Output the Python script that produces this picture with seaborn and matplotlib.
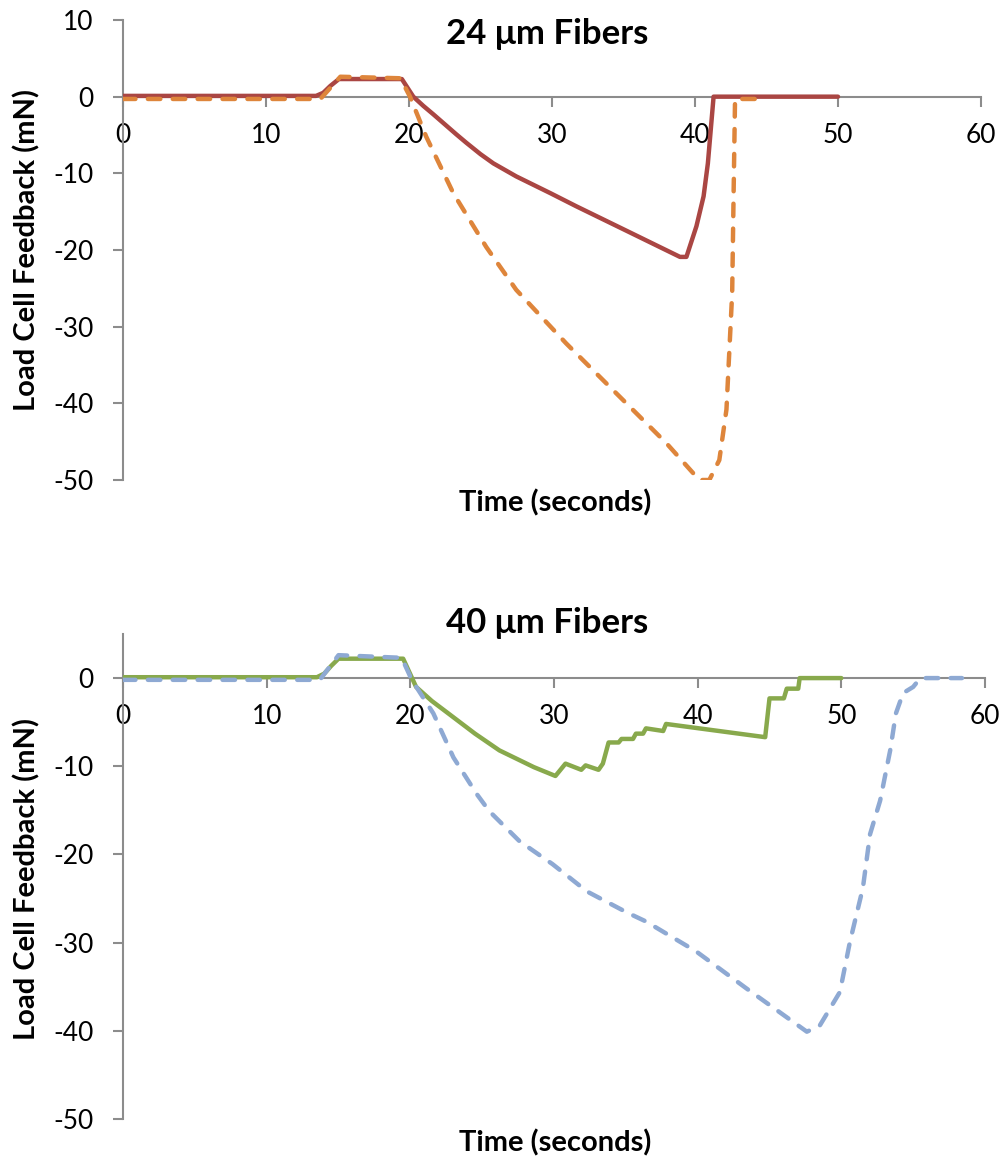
import numpy as np
import pandas as pd
import matplotlib
matplotlib.use("Agg")
import matplotlib.pyplot as plt
import seaborn as sns

# ---------------- data ----------------
# 24 um fibers, solid (red)
t24_solid = [0, 13.5, 14.0, 14.5, 15.1, 19.5, 20.3, 21.0, 21.7, 22.5, 23.3, 24.0, 25.0,
             25.9, 27.5, 29.9, 31.7, 35.0, 38.95, 39.4, 40.1, 40.6, 40.9, 41.3, 50.0]
f24_solid = [0.1, 0.1, 0.5, 1.4, 2.3, 2.3, 0.0, -1.2, -2.3, -3.6, -4.9, -6.0, -7.5,
             -8.7, -10.4, -12.6, -14.3, -17.3, -20.9, -20.9, -16.9, -13.0, -8.7, 0.0, 0.0]

# 24 um fibers, dashed (orange)
t24_dash = [0, 13.8, 15.2, 19.4, 20.07, 21.2, 23.1, 25.4, 27.5, 31.0, 34.5, 38.0,
            40.3, 41.0, 41.7, 42.2, 42.6, 42.7, 42.8, 44.7]
f24_dash = [-0.3, -0.3, 2.6, 2.4, 0.0, -5.2, -12.6, -19.6, -25.2, -32.2, -38.7, -45.2,
            -50.0, -50.0, -47.4, -40.8, -25.6, -12.6, -0.3, -0.3]

# 40 um fibers, solid (green)
t40_solid = [0, 13.5, 14.0, 14.5, 15.0, 19.5, 20.4, 21.5, 22.8, 24.5, 26.2, 28.6, 30.1,
             30.4, 30.8, 31.9, 32.2, 33.1, 33.4, 33.8, 34.5, 34.7, 35.5, 35.7, 36.2,
             36.4, 37.6, 37.8, 44.7, 45.0, 46.0, 46.2, 47.0, 47.1, 50.0]
f40_solid = [0.1, 0.1, 0.5, 1.4, 2.2, 2.2, -1.0, -2.6, -4.2, -6.3, -8.2, -10.1, -11.1,
             -10.5, -9.7, -10.4, -9.9, -10.4, -9.7, -7.3, -7.3, -6.9, -6.9, -6.3, -6.3,
             -5.7, -6.0, -5.2, -6.7, -2.3, -2.3, -1.2, -1.2, 0.0, 0.0]

# 40 um fibers, dashed (blue)
t40_dash = [0, 13.7, 15.0, 19.4, 20.1, 21.6, 23.0, 24.6, 25.5, 27.6, 29.9, 32.3, 35.1,
            36.4, 39.9, 43.4, 47.6, 48.5, 49.9, 50.6, 51.5, 52.0, 52.7, 53.4, 53.8,
            54.3, 55.0, 55.5, 58.4]
f40_dash = [-0.2, -0.2, 2.6, 2.3, -0.2, -4.0, -9.0, -13.1, -15.1, -18.5, -21.1, -24.2,
            -26.6, -27.6, -31.0, -35.2, -40.1, -39.4, -35.6, -29.9, -23.8, -17.7, -13.9,
            -8.2, -4.0, -1.7, -1.0, 0.0, 0.0]

titles = ["24 \u03bcm Fibers", "40 \u03bcm Fibers"]
xlabel = "Time (seconds)"
ylabel = "Load Cell Feedback (mN)"
xticks = [0, 10, 20, 30, 40, 50, 60]
yticks_top = [10, 0, -10, -20, -30, -40, -50]
yticks_bot = [0, -10, -20, -30, -40, -50]

# ---------------- style ----------------
sns.set_theme(style="white")
FONT = ["Lato", "DejaVu Sans"]
plt.rcParams["font.family"] = FONT
plt.rcParams["text.color"] = "black"

RED = "#AA4643"
ORANGE = "#DE853B"
GREEN = "#88A94C"
BLUE = "#8EA9D3"
SPINE = "#8C8C8C"

W, H = 1007, 1161
fig = plt.figure(figsize=(W / 100, H / 100), dpi=100)

def px_axes(left, top, right, bottom):
    return fig.add_axes([left / W, 1 - bottom / H, (right - left) / W, (bottom - top) / H])

ax1 = px_axes(123, 20, 981, 480)
ax2 = px_axes(123, 634, 985, 1119)

LW = 3.2

def draw(ax, ts, fs, td, fd, csolid, cdash):
    d1 = pd.DataFrame({"t": ts, "f": fs})
    d2 = pd.DataFrame({"t": td, "f": fd})
    sns.lineplot(data=d1, x="t", y="f", ax=ax, color=csolid, lw=LW, sort=False,
                 estimator=None, solid_capstyle="round", solid_joinstyle="round", zorder=3)
    sns.lineplot(data=d2, x="t", y="f", ax=ax, color=cdash, lw=LW, sort=False,
                 estimator=None, zorder=4)
    ln = ax.lines[-1]
    ln.set_dashes((2.8, 2.8))
    ln.set_dash_capstyle("round")
    ln.set_dash_joinstyle("round")

draw(ax1, t24_solid, f24_solid, t24_dash, f24_dash, RED, ORANGE)
draw(ax2, t40_solid, f40_solid, t40_dash, f40_dash, GREEN, BLUE)

def style(ax, ylim, yticks):
    ax.set_xlim(0, 60)
    ax.set_ylim(*ylim)
    ax.set_xticks(xticks)
    ax.set_yticks(yticks)
    ax.set_xticklabels([str(v) for v in xticks])
    ax.set_yticklabels([str(v) for v in yticks])
    for s in ("top", "right"):
        ax.spines[s].set_visible(False)
    ax.spines["bottom"].set_position(("data", 0))
    for s in ("left", "bottom"):
        ax.spines[s].set_color(SPINE)
        ax.spines[s].set_linewidth(1.5)
    ax.tick_params(axis="both", which="major", direction="out", length=7, width=1.5,
                   color=SPINE, labelsize=19, labelcolor="black")
    ax.tick_params(axis="x", bottom=True, pad=12)
    ax.tick_params(axis="y", left=True, pad=14)
    for lab in ax.get_xticklabels() + ax.get_yticklabels():
        lab.set_family(FONT)
    ax.set_xlabel(xlabel, fontsize=21, fontweight="bold", family=FONT, color="black")
    ax.set_ylabel(ylabel, fontsize=21, fontweight="bold", family=FONT, color="black")
    ax.grid(False)
    ax.set_facecolor("white")

style(ax1, (-50, 10), yticks_top)
style(ax2, (-50, 5), yticks_bot)

# label placement (axes fraction)
ax1.xaxis.set_label_coords((555 - 123) / 858, (480 - 503) / 460)
ax2.xaxis.set_label_coords((555 - 123) / 862, (1119 - 1143) / 485)
ax1.yaxis.set_label_coords((27 - 123) / 858, 0.5)
ax2.yaxis.set_label_coords((27 - 123) / 862, (1119 - 879) / 485)
for ax in (ax1, ax2):
    ax.xaxis.label.set_va("center")
    ax.yaxis.label.set_va("center")

# titles
fig.text(547.5 / W, 1 - 33.5 / H, titles[0], ha="center", va="center",
         fontsize=25, fontweight="bold", family=FONT, color="black")
fig.text(547.5 / W, 1 - 623 / H, titles[1], ha="center", va="center",
         fontsize=25, fontweight="bold", family=FONT, color="black")

fig.savefig("out.png", dpi=100, facecolor="white")
